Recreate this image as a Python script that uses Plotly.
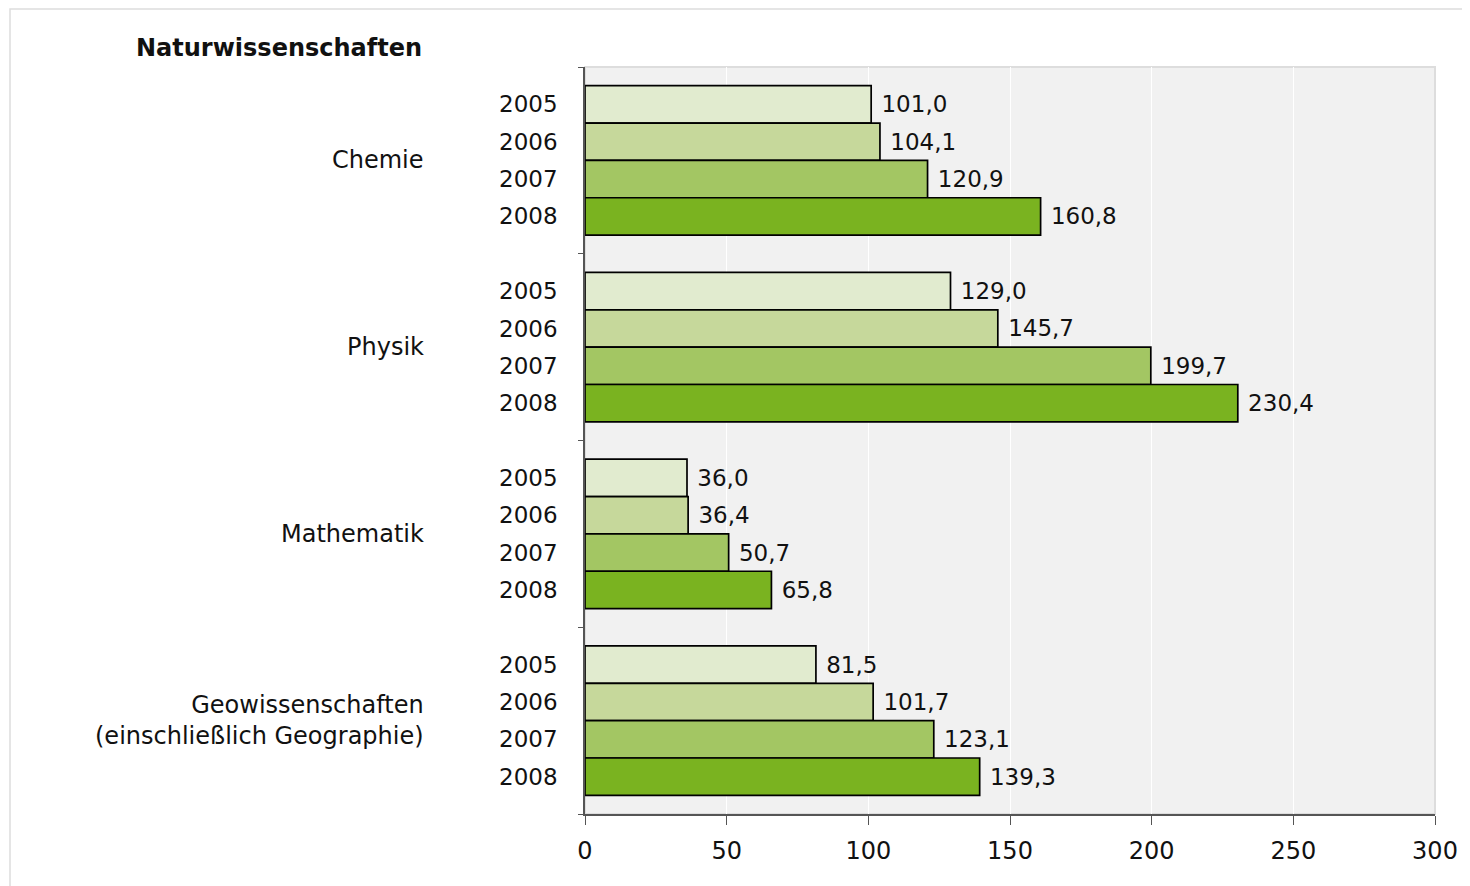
import plotly.graph_objects as go

categories = ["Chemie", "Physik", "Mathematik", "Geowissenschaften<br>(einschließlich Geographie)"]
years = ["2005", "2006", "2007", "2008"]
values_2005 = [101.0, 129.0, 36.0, 81.5]
values_2006 = [104.1, 145.7, 36.4, 101.7]
values_2007 = [120.9, 199.7, 50.7, 123.1]
values_2008 = [160.8, 230.4, 65.8, 139.3]
series = [values_2005, values_2006, values_2007, values_2008]
colors = ["#E1EBCF", "#C6D89B", "#A3C663", "#7AB320"]
x_ticks = [0, 50, 100, 150, 200, 250, 300]

FONT = "DejaVu Sans"
OFF = 8  # page body margin
W, H = 1470 - OFF, 886 - OFF
ML, MR, MT = 585 - OFF, 35, 67 - OFF
PW, PH = 850, 747
MB = H - MT - PH

fig = go.Figure()
tickvals, ticktext = [], []
for i, (yr, vals, col) in enumerate(zip(years, series, colors)):
    ypos = [g * 5 + 1 + i for g in range(len(categories))]
    tickvals += ypos
    ticktext += [yr] * len(ypos)
    fig.add_trace(go.Bar(
        x=vals, y=ypos, orientation="h", width=1.0,
        marker=dict(color=col, line=dict(color="black", width=1.7)),
        text=[" " + f"{v:.1f}".replace(".", ",") for v in vals],
        textposition="outside", cliponaxis=False,
        textfont=dict(family=FONT, size=23, color="#111"),
        name=yr, showlegend=False, hoverinfo="skip",
    ))

fig.update_layout(
    width=W, height=H,
    margin=dict(l=ML, r=MR, t=MT, b=MB),
    paper_bgcolor="white", plot_bgcolor="#F1F1F1",
    barmode="overlay",
    font=dict(family=FONT, size=23, color="#111"),
    xaxis=dict(range=[0, 300], tickvals=x_ticks, showgrid=True, gridcolor="white",
               gridwidth=1, zeroline=False, showline=True, linecolor="#555", linewidth=1.5,
               ticks="outside", ticklen=9, tickcolor="#555",
               tickfont=dict(family=FONT, size=24, color="#111"), ticklabelstandoff=5),
    yaxis=dict(range=[20, 0], tickvals=tickvals, ticktext=ticktext, showgrid=False,
               zeroline=False, showline=True, linecolor="#555", linewidth=1.5, ticks="",
               tickfont=dict(family=FONT, size=23, color="#111"), ticklabelstandoff=21),
    yaxis2=dict(range=[20, 0], overlaying="y", tickvals=[0, 5, 10, 15, 20],
                showticklabels=False, ticks="outside", ticklen=6, tickcolor="#555",
                showgrid=False, zeroline=False, showline=False),
)

def px_x(px):
    return (px - OFF - ML) / PW

def px_y(py):
    return (H - MB - (py - OFF)) / PH

annotations = []
for g, cat in enumerate(categories):
    yc = g * 5 + 2.5
    annotations.append(dict(text=cat, x=px_x(426), xref="paper", y=yc, yref="y",
                            xanchor="right", yanchor="middle", align="right",
                            showarrow=False, font=dict(family=FONT, size=24, color="#111")))
annotations.append(dict(text="<b>Naturwissenschaften</b>", x=px_x(424), xref="paper",
                        y=px_y(48), yref="paper", xanchor="right", yanchor="middle",
                        showarrow=False, font=dict(family=FONT, size=24, color="#111")))
fig.update_layout(annotations=annotations)

fig.add_trace(go.Scatter(x=[None], y=[None], yaxis="y2", showlegend=False, hoverinfo="skip"))

shapes = [
    dict(type="rect", xref="paper", yref="paper", x0=0, x1=1, y0=0, y1=1,
         line=dict(color="#DDDDDD", width=2), layer="below"),
    dict(type="path", xref="paper", yref="paper",
         path=f"M {px_x(10)} {px_y(890)} L {px_x(10)} {px_y(9)} L {px_x(1468)} {px_y(9)} L {px_x(1468)} {px_y(890)}",
         line=dict(color="#DDDDDD", width=1.5)),
]
fig.update_layout(shapes=shapes)

fig.write_html("out.html")
